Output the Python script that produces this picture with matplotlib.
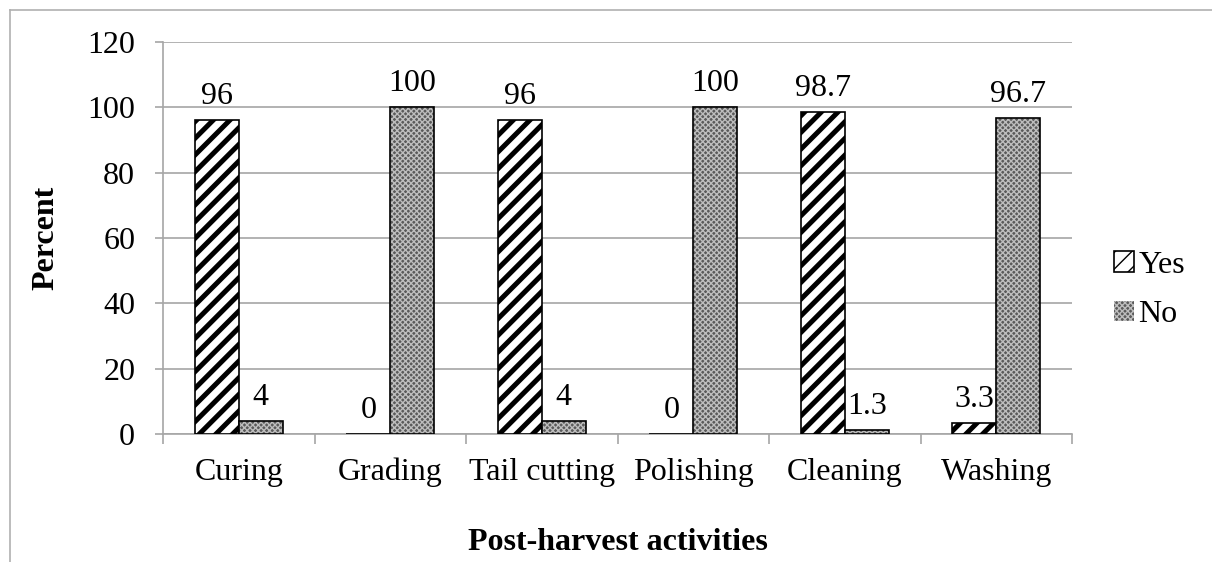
import matplotlib.pyplot as plt
import numpy as np
from matplotlib.lines import Line2D
from matplotlib.patches import Rectangle

activities = ['Curing', 'Grading', 'Tail cutting', 'Polishing', 'Cleaning', 'Washing']
yes_vals = [96, 0, 96, 0, 98.7, 3.3]
no_vals = [4, 100, 4, 100, 1.3, 96.7]
yes_labels = ['96', '0', '96', '0', '98.7', '3.3']
no_labels = ['4', '100', '4', '100', '1.3', '96.7']

plt.rcParams['font.family'] = ['Liberation Serif', 'DejaVu Serif']
W, H = 1212, 562
fs = 23
fig = plt.figure(figsize=(W / 100, H / 100), dpi=100)
ax = fig.add_axes([163 / W, 1 - 434 / H, (1072 - 163) / W, (434 - 42) / H])

x = np.arange(len(activities))
bw = 0.29
grey = '#a6a6a6'

with plt.rc_context({'hatch.linewidth': 3.6}):
    yes_bars = ax.bar(x - bw / 2, yes_vals, bw, facecolor='white', edgecolor='black',
                      linewidth=1.2, hatch='//', label='Yes', zorder=3)
with plt.rc_context({'hatch.linewidth': 1.0}):
    ax.bar(x + bw / 2, no_vals, bw, facecolor='#5a5a5a', edgecolor='#bdbdbd',
           linewidth=0, hatch='xxxxxx', zorder=3)
    no_handle = Rectangle((0, 0), 1, 1, facecolor='#5a5a5a', edgecolor='#bdbdbd',
                          hatch='xxxxxx', linewidth=0)
ax.bar(x + bw / 2, no_vals, bw, fill=False, edgecolor='black', linewidth=1.2, zorder=4)

for xi, v, s in zip(x - bw / 2, yes_vals, yes_labels):
    ax.annotate(s, (xi, v), xytext=(0, 9), textcoords='offset pixels',
                ha='center', va='bottom', fontsize=fs)
for xi, v, s in zip(x + bw / 2, no_vals, no_labels):
    ax.annotate(s, (xi, v), xytext=(0, 9), textcoords='offset pixels',
                ha='center', va='bottom', fontsize=fs)

ax.set_ylim(0, 120)
ax.set_yticks(range(0, 121, 20))
ax.set_xlim(-0.5, len(activities) - 0.5)
ax.set_xticks(np.arange(len(activities) + 1) - 0.5)
ax.set_xticklabels([])
ax.set_xticks(x, minor=True)
ax.set_xticklabels(activities, minor=True, fontsize=fs)
ax.tick_params(axis='x', which='minor', length=0, pad=17)
ax.tick_params(axis='x', which='major', length=7, color=grey, width=1.2)
ax.tick_params(axis='y', length=6, color=grey, width=1.2, labelsize=fs, pad=14)

ax.grid(axis='y', color=grey, linewidth=1.2, zorder=0)
ax.set_axisbelow(True)
for s in ['top', 'right']:
    ax.spines[s].set_visible(False)
for s in ['left', 'bottom']:
    ax.spines[s].set_color(grey)
    ax.spines[s].set_linewidth(1.2)

ax.set_ylabel('Percent', fontsize=fs, fontweight='bold', va='center')
ax.yaxis.set_label_coords((46 - 163) / 909, 0.5)
ax.set_xlabel('Post-harvest activities', fontsize=fs, fontweight='bold', va='center')
ax.xaxis.set_label_coords(0.5, (434 - 542) / 392)

ax.legend([yes_bars, no_handle], ['Yes', 'No'], loc='center left',
          bbox_to_anchor=(1.015, (434 - 290) / 392), frameon=False, fontsize=fs,
          handlelength=0.6, handleheight=0.6, handletextpad=0.15, labelspacing=0.65)

# outer chart frame
fig.add_artist(Line2D([10 / W, 1.0], [1 - 10 / H] * 2, color='#b0b0b0', lw=1.2))
fig.add_artist(Line2D([10 / W] * 2, [0, 1 - 10 / H], color='#b0b0b0', lw=1.2))

fig.savefig('out.png', dpi=100)
